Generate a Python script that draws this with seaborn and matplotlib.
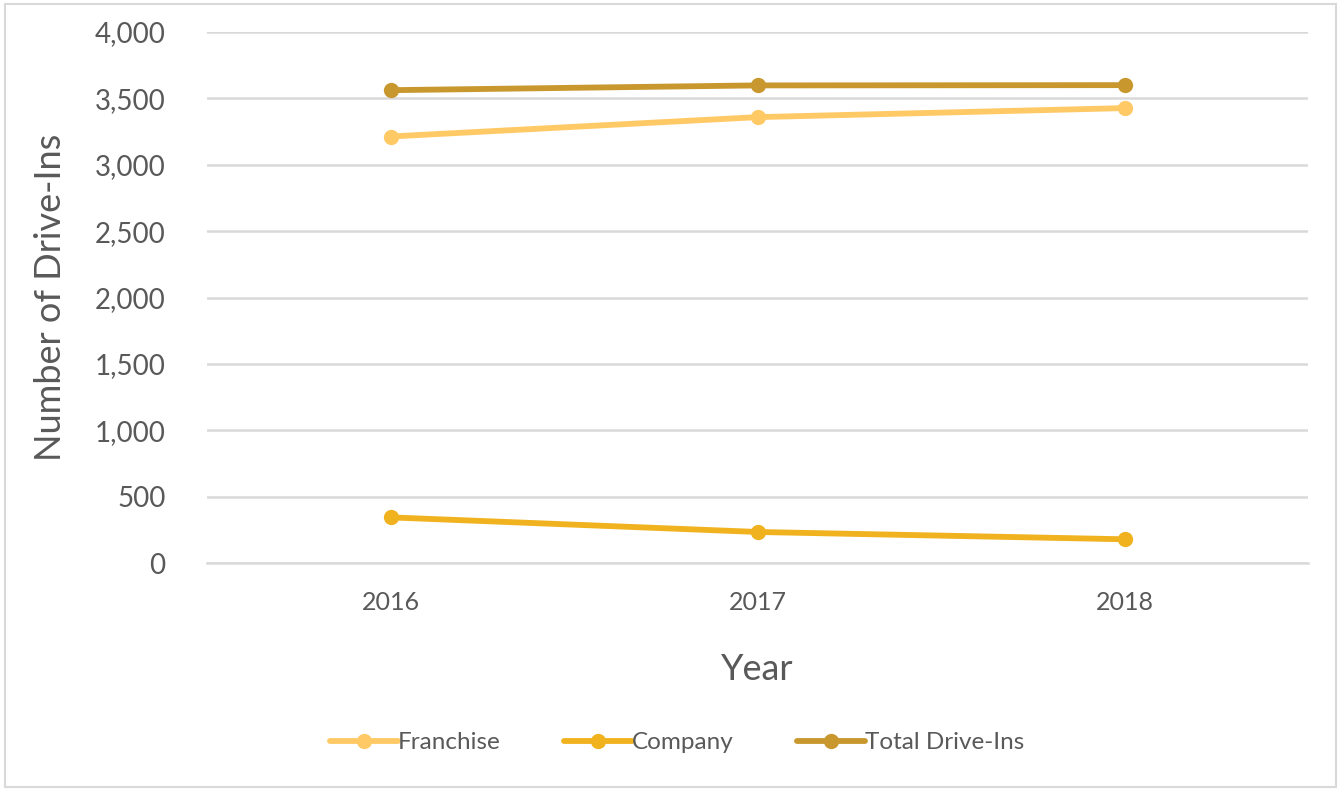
import matplotlib
matplotlib.use("Agg")
import matplotlib.pyplot as plt
import pandas as pd
import seaborn as sns
from matplotlib.patches import Rectangle
from matplotlib.ticker import FuncFormatter

years = ["2016", "2017", "2018"]
franchise = [3213, 3359, 3427]
company = [344, 234, 179]
total = [3562, 3598, 3600]

series = ["Franchise", "Company", "Total Drive-Ins"]
colors = ["#FFC966", "#F0B21E", "#C8982E"]

df = pd.DataFrame({
    "Year": years * 3,
    "Count": franchise + company + total,
    "Series": [s for s in series for _ in years],
})

sns.set_style("white")
plt.rcParams["font.family"] = ["Lato", "DejaVu Sans"]

fig = plt.figure(figsize=(13.41, 7.91), dpi=100)
ax = fig.add_axes([0.1544, 0.2882, 0.8210, 0.6713])

sns.lineplot(data=df, x="Year", y="Count", hue="Series", palette=colors,
             marker="o", markersize=11, markeredgewidth=0, linewidth=4.2,
             ax=ax, sort=False)

ax.set_xlim(-0.5, 2.5)
ax.set_ylim(0, 4000)
ax.set_yticks(range(0, 4001, 500))
ax.yaxis.set_major_formatter(FuncFormatter(lambda v, p: f"{int(v):,}"))
ax.grid(axis="y", color="#D9D9D9", linewidth=1.8)
ax.set_axisbelow(True)
for s in ["top", "right", "left"]:
    ax.spines[s].set_visible(False)
ax.spines["bottom"].set_color("#D9D9D9")
ax.spines["bottom"].set_linewidth(1.8)
ax.tick_params(axis="y", labelsize=20, colors="#595959", length=0, pad=30)
ax.tick_params(axis="x", labelsize=18, colors="#595959", length=0, pad=20)

ax.set_xlabel("Year", fontsize=26, color="#595959", labelpad=28)
ax.set_ylabel("Number of Drive-Ins", fontsize=26, color="#595959", labelpad=20)

handles, labels = ax.get_legend_handles_labels()
ax.get_legend().remove()
leg = fig.legend(handles, labels, loc="center", bbox_to_anchor=(0.505, 0.061),
                 ncol=3, frameon=False, fontsize=17.5, handlelength=2.8,
                 columnspacing=2.6, handletextpad=0.0)
for t in leg.get_texts():
    t.set_color("#595959")

fig.patches.append(Rectangle((0.004, 0.005), 0.992, 0.99, transform=fig.transFigure,
                             fill=False, edgecolor="#D9D9D9", linewidth=1.5))

fig.savefig("out.png", dpi=100)
